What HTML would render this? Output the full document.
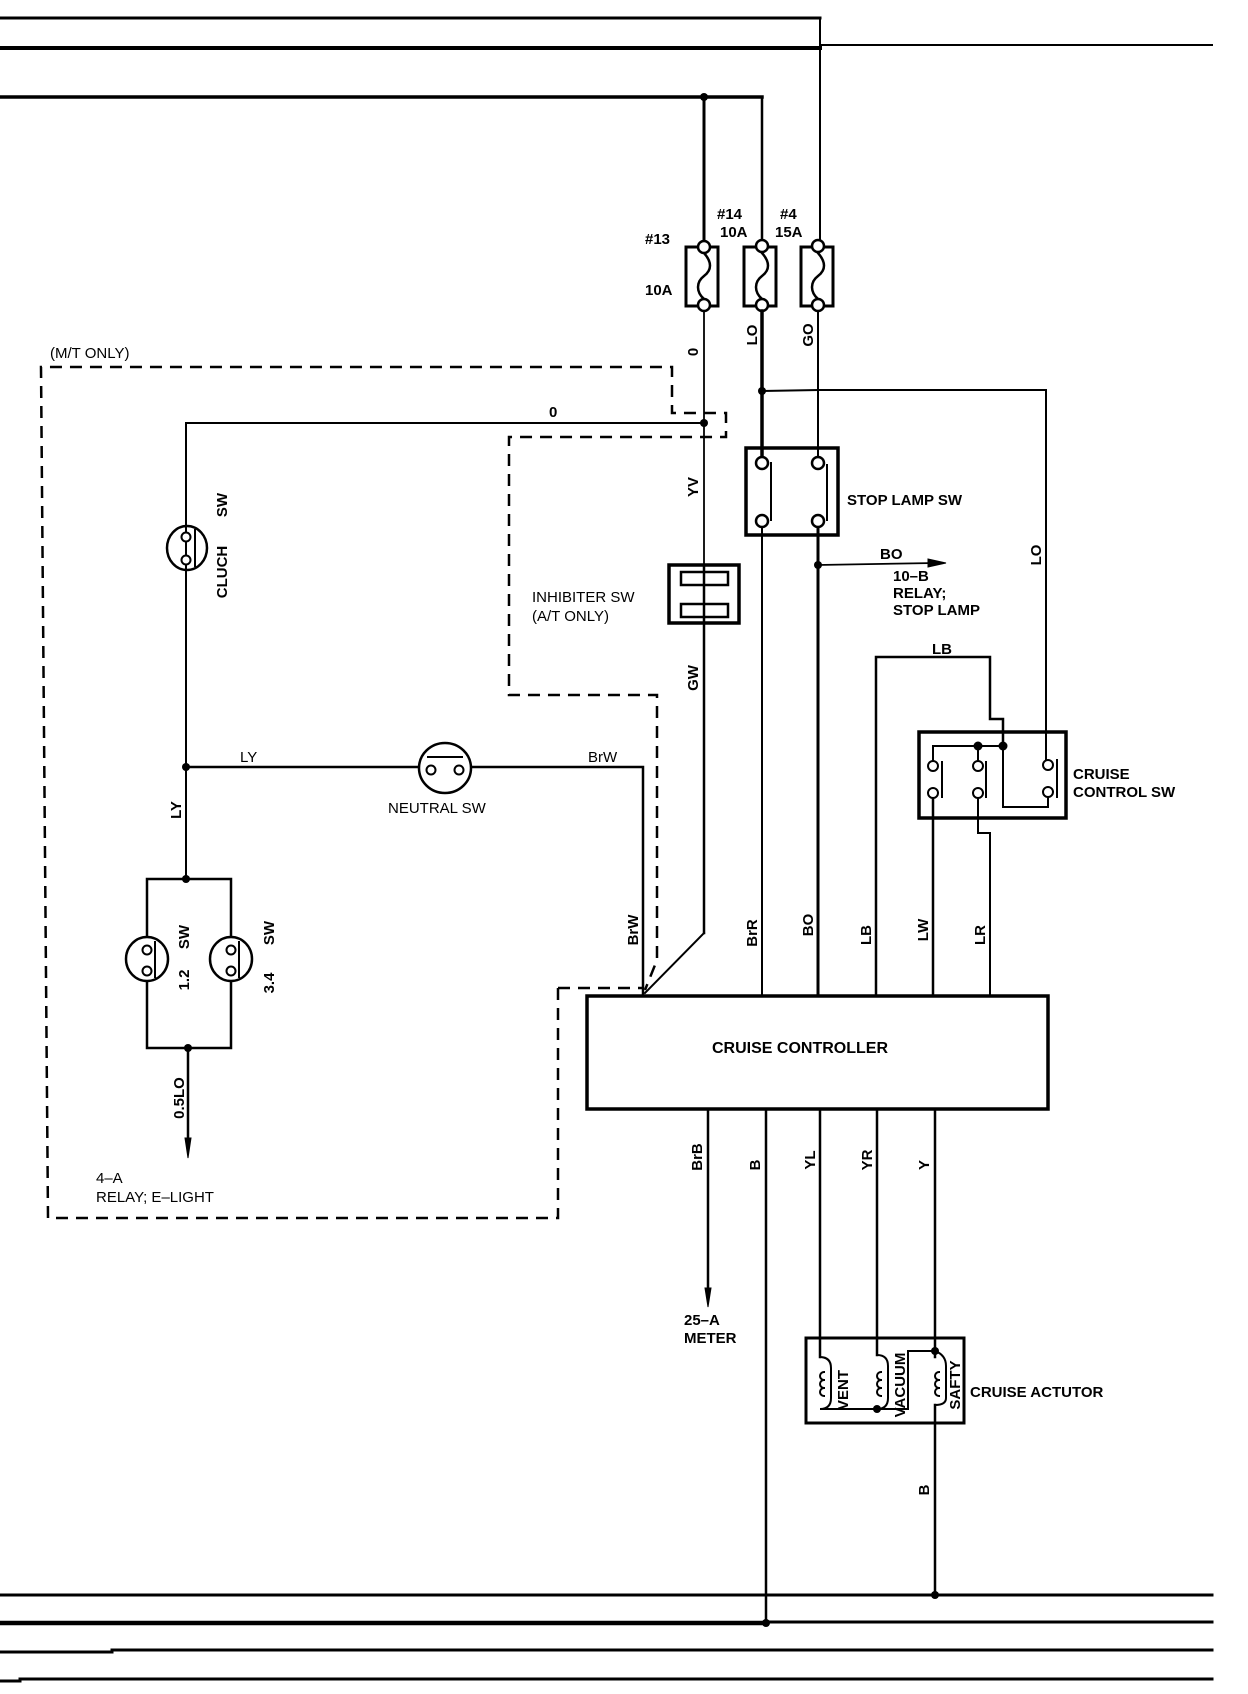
<!DOCTYPE html>
<html><head><meta charset="utf-8"><style>
html,body{margin:0;padding:0;background:#fff;}
svg{display:block;}
text{font-family:"Liberation Sans",sans-serif;font-weight:bold;font-size:15px;fill:#000;}
</style></head><body>
<svg width="1248" height="1694" viewBox="0 0 1248 1694" xmlns="http://www.w3.org/2000/svg">
<g stroke="#000" fill="none" stroke-linecap="square">
<!-- top bus lines -->
<line x1="0" y1="18" x2="820" y2="18" stroke-width="3"/>
<line x1="0" y1="48" x2="820" y2="48" stroke-width="4"/>
<line x1="820" y1="45" x2="1212" y2="45" stroke-width="2"/>
<line x1="820" y1="18" x2="820" y2="247" stroke-width="2"/>
<line x1="0" y1="97" x2="762" y2="97" stroke-width="3.5"/>
<line x1="704" y1="97" x2="704" y2="247" stroke-width="3"/>
<line x1="762" y1="97" x2="762" y2="247" stroke-width="2.5"/>
<!-- bottom bus lines -->
<line x1="0" y1="1595" x2="1212" y2="1595" stroke-width="3"/>
<line x1="0" y1="1623" x2="766" y2="1623" stroke-width="4.5"/>
<line x1="766" y1="1622" x2="1212" y2="1622" stroke-width="3"/>
<line x1="0" y1="1652" x2="112" y2="1652" stroke-width="3"/>
<line x1="112" y1="1650" x2="1212" y2="1650" stroke-width="3"/>
<line x1="0" y1="1681" x2="20" y2="1681" stroke-width="3"/>
<line x1="20" y1="1679" x2="1212" y2="1679" stroke-width="3"/>

<!-- fuses -->
<rect x="686" y="247" width="32" height="59" stroke-width="3"/>
<path d="M704 253 C712 262,712 270,704 276 C696 282,696 292,704 299" stroke-width="2.5"/>
<rect x="744" y="247" width="32" height="59" stroke-width="3"/>
<path d="M762 253 C770 262,770 270,762 276 C754 282,754 292,762 299" stroke-width="2.5"/>
<rect x="801" y="247" width="32" height="59" stroke-width="3"/>
<path d="M818 253 C826 262,826 270,818 276 C810 282,810 292,818 299" stroke-width="2.5"/>
<g fill="#fff" stroke-width="2.5">
<circle cx="704" cy="247" r="6"/><circle cx="704" cy="305" r="6"/>
<circle cx="762" cy="246" r="6"/><circle cx="762" cy="305" r="6"/>
<circle cx="818" cy="246" r="6"/><circle cx="818" cy="305" r="6"/>
</g>

<!-- fuse outputs -->
<line x1="704" y1="311" x2="704" y2="565" stroke-width="1.8"/>
<line x1="762" y1="311" x2="762" y2="460" stroke-width="3.5"/>
<line x1="818" y1="311" x2="818" y2="460" stroke-width="2"/>
<line x1="762" y1="391" x2="818" y2="390" stroke-width="2"/>
<polyline points="818,390 1046,390 1046,760" stroke-width="2"/>

<!-- stop lamp sw -->
<rect x="746" y="448" width="92" height="87" stroke-width="3.5"/>
<line x1="771" y1="463" x2="771" y2="520" stroke-width="2"/>
<line x1="827" y1="465" x2="827" y2="520" stroke-width="2"/>
<line x1="762" y1="527" x2="762" y2="994" stroke-width="2"/>
<line x1="818" y1="527" x2="818" y2="994" stroke-width="3"/>
<line x1="818" y1="565" x2="935" y2="563" stroke-width="1.8"/>
<polygon points="928,559 946,563 928,567" fill="#000" stroke-width="1"/>
<g fill="#fff" stroke-width="2.5">
<circle cx="762" cy="463" r="6"/><circle cx="818" cy="463" r="6"/>
<circle cx="762" cy="521" r="6"/><circle cx="818" cy="521" r="6"/>
</g>

<!-- inhibiter -->
<line x1="704" y1="565" x2="704" y2="933" stroke-width="2.5"/>
<polyline points="704,933 645,993" stroke-width="2"/>
<rect x="669" y="565" width="70" height="58" stroke-width="3.5"/>
<rect x="681" y="572" width="47" height="13" stroke-width="2.5"/>
<rect x="681" y="604" width="47" height="13" stroke-width="2.5"/>

<!-- clutch circuit -->
<polyline points="704,423 186,423 186,879" stroke-width="2"/>
<ellipse cx="187" cy="548" rx="20" ry="22" stroke-width="2.5"/>
<line x1="195" y1="530" x2="195" y2="566" stroke-width="2"/>
<polyline points="186,767 643,767 643,994" stroke-width="2.5"/>
<ellipse cx="445" cy="768" rx="26" ry="25" fill="#fff" stroke-width="2.5"/>
<line x1="428" y1="757" x2="462" y2="757" stroke-width="2"/>
<polyline points="147,1048 147,879 231,879 231,1048 147,1048" stroke-width="2.5"/>
<ellipse cx="147" cy="959" rx="21" ry="22" fill="#fff" stroke-width="2.5"/>
<ellipse cx="231" cy="959" rx="21" ry="22" fill="#fff" stroke-width="2.5"/>
<line x1="155" y1="942" x2="155" y2="977" stroke-width="2"/>
<line x1="239" y1="942" x2="239" y2="977" stroke-width="2"/>
<line x1="188" y1="1048" x2="188" y2="1150" stroke-width="2.5"/>
<polygon points="185,1138 188,1158 191,1138" fill="#000" stroke-width="1"/>
<g fill="#fff" stroke-width="2">
<circle cx="186" cy="537" r="4.5"/><circle cx="186" cy="560" r="4.5"/>
<circle cx="431" cy="770" r="4.5"/><circle cx="459" cy="770" r="4.5"/>
<circle cx="147" cy="950" r="4.5"/><circle cx="147" cy="971" r="4.5"/>
<circle cx="231" cy="950" r="4.5"/><circle cx="231" cy="971" r="4.5"/>
</g>

<!-- dashed boxes -->
<g stroke-width="2.5" stroke-dasharray="12,8" stroke-linecap="butt">
<polyline points="558,988 558,1218 48,1218 41,367 672,367 672,413 726,413 726,437 509,437 509,695 657,695 657,960 645,990"/>
<polyline points="558,988 643,988"/>
</g>

<!-- cruise controller -->
<rect x="587" y="996" width="461" height="113" stroke-width="3.5"/>

<!-- cruise control sw -->
<rect x="919" y="732" width="147" height="86" stroke-width="3.5"/>
<polyline points="876,994 876,657 990,657 990,719 1003,719 1003,746" stroke-width="2.5"/>
<polyline points="933,766 933,746 1003,746 1003,807 1048,807 1048,797" stroke-width="2"/>
<line x1="978" y1="746" x2="978" y2="766" stroke-width="2"/>
<line x1="942" y1="762" x2="942" y2="797" stroke-width="2"/>
<line x1="986" y1="762" x2="986" y2="797" stroke-width="2"/>
<line x1="1057" y1="760" x2="1057" y2="797" stroke-width="2"/>
<line x1="933" y1="793" x2="933" y2="994" stroke-width="2.5"/>
<polyline points="978,793 978,833 990,833 990,994" stroke-width="2"/>
<g fill="#fff" stroke-width="2">
<circle cx="933" cy="766" r="5"/><circle cx="978" cy="766" r="5"/>
<circle cx="933" cy="793" r="5"/><circle cx="978" cy="793" r="5"/>
<circle cx="1048" cy="765" r="5"/><circle cx="1048" cy="792" r="5"/>
</g>

<!-- below controller -->
<line x1="708" y1="1109" x2="708" y2="1295" stroke-width="2.5"/>
<polygon points="705,1288 708,1307 711,1288" fill="#000" stroke-width="1"/>
<line x1="766" y1="1109" x2="766" y2="1623" stroke-width="2.5"/>
<line x1="820" y1="1109" x2="820" y2="1357" stroke-width="2.5"/>
<line x1="877" y1="1109" x2="877" y2="1355" stroke-width="2.5"/>
<line x1="935" y1="1109" x2="935" y2="1357" stroke-width="2.5"/>
<line x1="935" y1="1405" x2="935" y2="1595" stroke-width="2.5"/>

<!-- actuator -->
<rect x="806" y="1338" width="158" height="85" stroke-width="3"/>
<path d="M820 1357 Q831 1357 831 1368 L831 1398 Q831 1409 820 1409 L877 1409" stroke-width="2"/>
<path d="M877 1355 Q888 1355 888 1366 L888 1398 Q888 1409 877 1409" stroke-width="2"/>
<polyline points="877,1409 908,1409 908,1351 935,1351" stroke-width="2"/>
<path d="M935 1351 Q946 1355 946 1366 L946 1398 Q946 1405 935 1405" stroke-width="2"/>
<g stroke-width="2">
<path d="M824 1372 a4 4 0 1 0 0 8 M824 1380 a4 4 0 1 0 0 8 M824 1388 a4 4 0 1 0 0 8"/>
<path d="M881 1372 a4 4 0 1 0 0 8 M881 1380 a4 4 0 1 0 0 8 M881 1388 a4 4 0 1 0 0 8"/>
<path d="M939 1372 a4 4 0 1 0 0 8 M939 1380 a4 4 0 1 0 0 8 M939 1388 a4 4 0 1 0 0 8"/>
</g>
</g>

<!-- dots -->
<g fill="#000">
<circle cx="704" cy="97" r="4"/><circle cx="704" cy="423" r="4"/>
<circle cx="762" cy="391" r="4"/><circle cx="818" cy="565" r="4"/>
<circle cx="186" cy="767" r="4"/><circle cx="186" cy="879" r="4"/>
<circle cx="188" cy="1048" r="4"/>
<circle cx="978" cy="746" r="4.5"/><circle cx="1003" cy="746" r="4.5"/>
<circle cx="877" cy="1409" r="4"/><circle cx="935" cy="1351" r="4"/>
<circle cx="766" cy="1623" r="4"/><circle cx="935" cy="1595" r="4"/>
</g>

<!-- labels -->
<text x="645" y="244">#13</text>
<text x="645" y="295">10A</text>
<text x="717" y="219">#14</text>
<text x="720" y="237">10A</text>
<text x="780" y="219">#4</text>
<text x="775" y="237">15A</text>
<text x="847" y="505">STOP LAMP SW</text>
<text x="880" y="559">BO</text>
<text x="893" y="581">10–B</text>
<text x="893" y="598">RELAY;</text>
<text x="893" y="615">STOP LAMP</text>
<text x="50" y="358" style="font-weight:normal">(M/T ONLY)</text>
<text x="549" y="417">0</text>
<text x="532" y="602" style="font-weight:normal">INHIBITER SW</text>
<text x="532" y="621" style="font-weight:normal">(A/T ONLY)</text>
<text x="240" y="762" style="font-weight:normal">LY</text>
<text x="588" y="762" style="font-weight:normal">BrW</text>
<text x="388" y="813" style="font-weight:normal">NEUTRAL SW</text>
<text x="932" y="654">LB</text>
<text x="1073" y="779">CRUISE</text>
<text x="1073" y="797">CONTROL SW</text>
<text x="712" y="1053" style="font-size:16px">CRUISE CONTROLLER</text>
<text x="684" y="1325">25–A</text>
<text x="684" y="1343">METER</text>
<text x="970" y="1397">CRUISE ACTUTOR</text>
<text x="96" y="1183" style="font-weight:normal">4–A</text>
<text x="96" y="1202" style="font-weight:normal">RELAY; E–LIGHT</text>

<g style="font-size:14px">
<text transform="translate(698,352) rotate(-90)" text-anchor="middle">0</text>
<text transform="translate(757,335) rotate(-90)" text-anchor="middle">LO</text>
<text transform="translate(813,335) rotate(-90)" text-anchor="middle">GO</text>
<text transform="translate(1041,555) rotate(-90)" text-anchor="middle">LO</text>
<text transform="translate(698,487) rotate(-90)" text-anchor="middle">YV</text>
<text transform="translate(698,678) rotate(-90)" text-anchor="middle">GW</text>
<text transform="translate(227,505) rotate(-90)" text-anchor="middle">SW</text>
<text transform="translate(227,572) rotate(-90)" text-anchor="middle">CLUCH</text>
<text transform="translate(181,810) rotate(-90)" text-anchor="middle">LY</text>
<text transform="translate(189,937) rotate(-90)" text-anchor="middle">SW</text>
<text transform="translate(189,980) rotate(-90)" text-anchor="middle">1.2</text>
<text transform="translate(274,933) rotate(-90)" text-anchor="middle">SW</text>
<text transform="translate(274,983) rotate(-90)" text-anchor="middle">3.4</text>
<text transform="translate(184,1098) rotate(-90)" text-anchor="middle">0.5LO</text>
<text transform="translate(638,930) rotate(-90)" text-anchor="middle">BrW</text>
<text transform="translate(757,933) rotate(-90)" text-anchor="middle">BrR</text>
<text transform="translate(813,925) rotate(-90)" text-anchor="middle">BO</text>
<text transform="translate(871,935) rotate(-90)" text-anchor="middle">LB</text>
<text transform="translate(928,930) rotate(-90)" text-anchor="middle">LW</text>
<text transform="translate(985,935) rotate(-90)" text-anchor="middle">LR</text>
<text transform="translate(702,1157) rotate(-90)" text-anchor="middle">BrB</text>
<text transform="translate(760,1165) rotate(-90)" text-anchor="middle">B</text>
<text transform="translate(815,1160) rotate(-90)" text-anchor="middle">YL</text>
<text transform="translate(872,1160) rotate(-90)" text-anchor="middle">YR</text>
<text transform="translate(929,1165) rotate(-90)" text-anchor="middle">Y</text>
<text transform="translate(929,1490) rotate(-90)" text-anchor="middle">B</text>
</g>
<g style="font-size:11px;font-weight:normal">
<text transform="translate(848,1390) rotate(-90)" text-anchor="middle">VENT</text>
<text transform="translate(905,1385) rotate(-90)" text-anchor="middle">VACUUM</text>
<text transform="translate(960,1385) rotate(-90)" text-anchor="middle">SAFTY</text>
</g>
</svg>
</body></html>
